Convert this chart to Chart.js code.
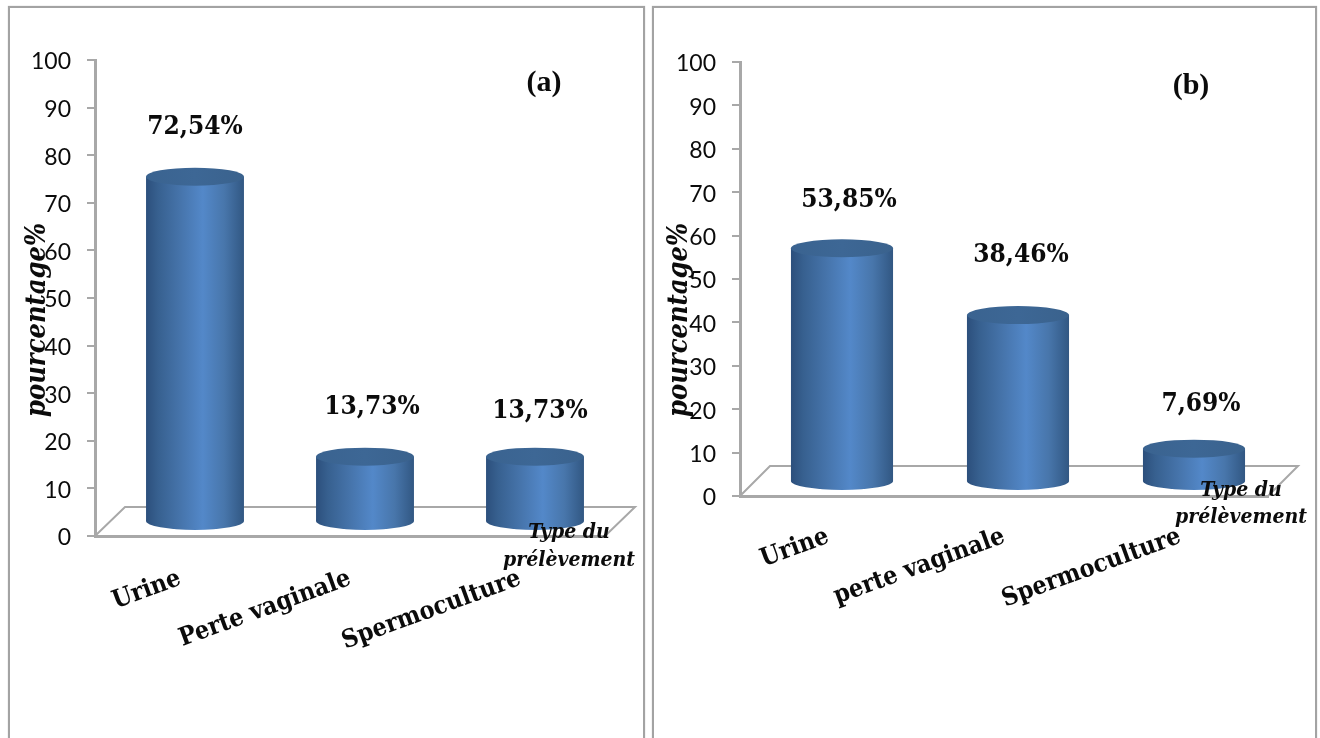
<!DOCTYPE html>
<html lang="fr">
<head>
<meta charset="utf-8">
<title>Type du prélèvement</title>
<script src="https://cdn.jsdelivr.net/npm/chart.js@4"></script>
<style>
  html, body { margin: 0; padding: 0; background: #fff; width: 1320px; height: 738px; overflow: hidden; }
  canvas { position: absolute; top: 0; }
  #chartA { left: 0; }
  #chartB { left: 648px; }
  .frame { position: absolute; top: 6px; height: 740px; box-sizing: border-box; border: 2px solid #a3a3a3; box-shadow: 0 0 1px #bbb; }
</style>
</head>
<body>
<div class="frame" style="left:8px;width:637px"></div>
<div class="frame" style="left:652px;width:665px"></div>
<canvas id="chartA" width="648" height="738"></canvas>
<canvas id="chartB" width="672" height="738"></canvas>
<script>
// Tick labels and series
const yTicks = [0, 10, 20, 30, 40, 50, 60, 70, 80, 90, 100];
const categoriesA = ['Urine', 'Perte vaginale', 'Spermoculture'];
const valuesA = [72.54, 13.73, 13.73];
const categoriesB = ['Urine', 'perte vaginale', 'Spermoculture'];
const valuesB = [53.85, 38.46, 7.69];
const yTitle = 'pourcentage%';
const xTitleLines = ['Type du', 'prélèvement'];

const AXIS_GREY = '#a8a8a8';
const TEXT = '#0b0b0b';
const SERIF = '"DejaVu Serif Condensed", "DejaVu Serif", "Liberation Serif", serif';

const percentText = v => v.toFixed(2).replace('.', ',') + '%';

// Horizontal shading across one cylinder body
function bodyGradient(ctx, left, right) {
  const g = ctx.createLinearGradient(left, 0, right, 0);
  g.addColorStop(0, '#2c4f7c');
  g.addColorStop(0.12, '#37608f');
  g.addColorStop(0.35, '#4674ab');
  g.addColorStop(0.58, '#5388c9');
  g.addColorStop(0.8, '#4876ab');
  g.addColorStop(0.95, '#375f8d');
  g.addColorStop(1, '#325782');
  return g;
}

// Floor, cylinder caps, value labels and free-standing captions
const cylinderPlugin = {
  id: 'cylinders',
  beforeDatasetsDraw(chart, _a, o) {
    const { ctx, chartArea: { left, right, bottom } } = chart;
    ctx.save();
    ctx.strokeStyle = AXIS_GREY;
    ctx.lineWidth = 2;
    ctx.lineJoin = 'miter';
    ctx.beginPath();
    ctx.moveTo(left, bottom);
    ctx.lineTo(left + o.floorDepth, bottom - o.floorRise);
    ctx.lineTo(right + o.floorDepth, bottom - o.floorRise);
    ctx.lineTo(right, bottom);
    ctx.stroke();
    ctx.restore();
  },
  beforeDatasetDraw(chart, args, o) {
    const { ctx } = chart;
    ctx.save();
    ctx.translate(o.shiftX, -o.shiftY);
    // Rounded underside of each cylinder
    args.meta.data.forEach(bar => {
      ctx.fillStyle = bar.options.backgroundColor;
      ctx.beginPath();
      ctx.ellipse(bar.x, bar.base, bar.width / 2, o.capRadius, 0, 0, Math.PI * 2);
      ctx.fill();
    });
  },
  afterDatasetDraw(chart, args, o) {
    const { ctx } = chart;
    // Flat top of each cylinder
    args.meta.data.forEach(bar => {
      const g = ctx.createLinearGradient(bar.x - bar.width / 2, 0, bar.x + bar.width / 2, 0);
      g.addColorStop(0, '#3a6390');
      g.addColorStop(0.5, '#3d6795');
      g.addColorStop(1, '#3a628d');
      ctx.fillStyle = g;
      ctx.beginPath();
      ctx.ellipse(bar.x, bar.y, bar.width / 2, o.capRadius, 0, 0, Math.PI * 2);
      ctx.fill();
    });
    ctx.restore();
  },
  afterDraw(chart, _a, o) {
    const { ctx } = chart;
    const meta = chart.getDatasetMeta(0);
    const values = chart.data.datasets[0].data;
    ctx.save();
    ctx.fillStyle = TEXT;
    ctx.textAlign = 'center';
    ctx.textBaseline = 'middle';

    ctx.font = 'bold 26px ' + SERIF;
    meta.data.forEach((bar, i) => {
      ctx.fillText(percentText(values[i]), bar.x + o.shiftX + o.labelDx[i], bar.y - o.shiftY - o.labelRise[i]);
    });

    ctx.font = 'bold 30px "Liberation Serif", serif';
    ctx.fillText(o.tag, o.tagX, o.tagY);

    ctx.font = 'italic bold 21px ' + SERIF;
    xTitleLines.forEach((line, i) => {
      ctx.fillText(line, o.xTitleX, o.xTitleY[i]);
    });

    ctx.save();
    ctx.translate(o.yTitleX, o.yTitleY);
    ctx.rotate(-Math.PI / 2);
    ctx.font = 'italic bold 27px ' + SERIF;
    ctx.fillText(yTitle, 0, 0);
    ctx.restore();

    ctx.restore();
  }
};

function buildChart(id, categories, values, frame, overlay) {
  const canvas = document.getElementById(id);
  return new Chart(canvas, {
    type: 'bar',
    plugins: [cylinderPlugin],
    data: {
      labels: categories,
      datasets: [{
        data: values,
        clip: false,
        barPercentage: frame.barShare,
        categoryPercentage: 1,
        borderWidth: 0,
        backgroundColor(c) {
          const sx = c.chart.scales.x;
          const half = sx ? sx.width / categories.length * frame.barShare / 2 : NaN;
          const mid = sx ? sx.getPixelForValue(c.dataIndex) : NaN;
          if (!Number.isFinite(half) || !Number.isFinite(mid)) return '#4f81bd';
          return bodyGradient(c.chart.ctx, mid - half, mid + half);
        }
      }]
    },
    options: {
      responsive: false,
      animation: false,
      events: [],
      layout: { padding: { left: 0, top: frame.top, right: frame.right, bottom: 0 } },
      plugins: { legend: { display: false }, tooltip: { enabled: false }, cylinders: overlay },
      scales: {
        x: {
          grid: { display: false },
          border: { color: AXIS_GREY, width: 3 },
          afterFit(s) {
            s.height = frame.xHeight;
            s.paddingLeft = s.paddingRight = s.paddingTop = s.paddingBottom = 0;
          },
          ticks: {
            autoSkip: false,
            minRotation: 20,
            maxRotation: 20,
            padding: frame.xPad,
            color: TEXT,
            font: { family: SERIF, weight: 'bold', size: 25 }
          }
        },
        y: {
          min: 0,
          max: 100,
          afterFit(s) {
            s.width = frame.yWidth;
            s.paddingLeft = s.paddingRight = s.paddingTop = s.paddingBottom = 0;
          },
          afterBuildTicks(s) { s.ticks = yTicks.map(value => ({ value })); },
          grid: { drawOnChartArea: false, drawTicks: true, tickLength: 8, color: AXIS_GREY, lineWidth: 2 },
          border: { color: AXIS_GREY, width: 3 },
          ticks: { padding: 16, labelOffset: 2, color: TEXT, font: { family: 'Lato', size: 23 } }
        }
      }
    }
  });
}

buildChart('chartA', categoriesA, valuesA,
  { top: 60, right: 43, xHeight: 202, yWidth: 95, barShare: 0.576, xPad: 20 },
  { shiftX: 15, shiftY: 14, capRadius: 9, floorDepth: 30, floorRise: 29,
    labelDx: [0, 7, 5], labelRise: [49, 49, 45], tag: '(a)', tagX: 544, tagY: 83,
    xTitleX: 569, xTitleY: [533, 561], yTitleX: 38, yTitleY: 320 });

buildChart('chartB', categoriesB, valuesB,
  { top: 62, right: 52, xHeight: 242, yWidth: 92, barShare: 0.58, xPad: 18 },
  { shiftX: 14, shiftY: 14, capRadius: 9, floorDepth: 30, floorRise: 30,
    labelDx: [7, 3, 7], labelRise: [48, 60, 44], tag: '(b)', tagX: 543, tagY: 86,
    xTitleX: 593, xTitleY: [491, 518], yTitleX: 32, yTitleY: 320 });
</script>
</body>
</html>
